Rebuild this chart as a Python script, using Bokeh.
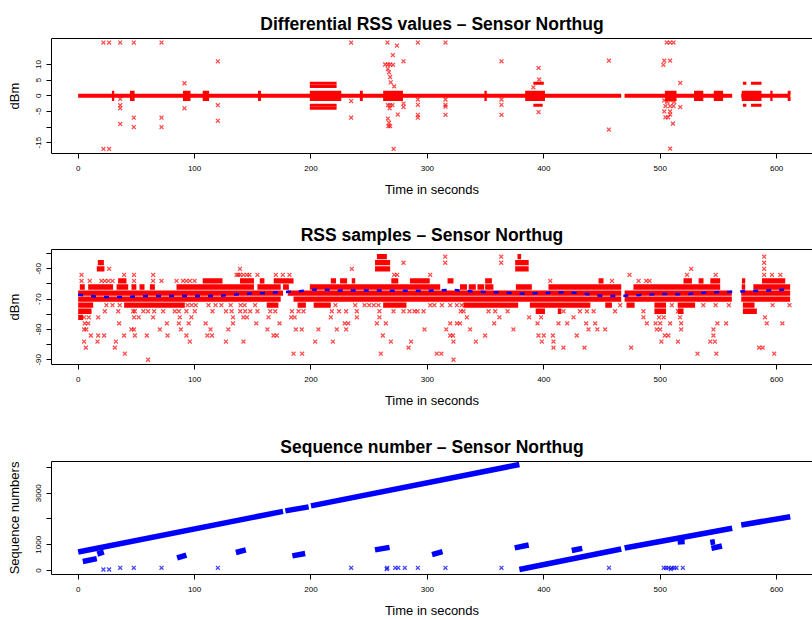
from bokeh.plotting import figure
from bokeh.layouts import column
from bokeh.models import Range1d, FixedTicker, LinearAxis
from bokeh.embed import file_html
from bokeh.resources import INLINE

FONT = "Liberation Sans"
TIME_TICKS = [0, 100, 200, 300, 400, 500, 600]

# ---------------- Panel 1: differential RSS ----------------
diff_band_t0 = [0, 469.4, 569.6]
diff_band_t1 = [466.5, 561.8, 611.7]
diff_band_v = [0, 0, 0]
# time spans where +1 / -1 differences are dense
diff_pm_t0 = [29, 44.5, 90, 107, 154.5, 199, 242, 262, 349, 384, 504, 529, 546, 570, 594.5, 609.5]
diff_pm_t1 = [31, 48.5, 96.5, 112.5, 157, 226, 244.5, 279, 351, 401, 514, 537, 554, 587, 596.5, 612]
diff_pm_levels = [1, -1]
# other dense rows
diff_row_t0 = [199, 199, 199, 199, 391, 391, 571, 578, 571, 578]
diff_row_t1 = [222, 222, 222, 222, 400, 399, 574, 587, 574, 587]
diff_row_v = [4, 3, -3, -4, 4, -3, 4, 4, -3, -3]
diff_pts_t = [21.7, 26.6, 36.1, 47.8, 71.6, 21.7, 26.6,
              36.1, 36.1, 36.1, 36.1, 47.8, 47.8, 71.6, 71.6,
              91.3, 91.3, 120, 120, 120,
              234.5, 234.5, 234.5,
              263.7, 265.7, 266, 266, 267, 268, 268, 268.5, 270.3, 270.5, 271.5, 273.8, 279.5,
              266, 268, 270, 267.5, 274.5, 266, 267, 266.5, 268, 271, 279.5, 279.5,
              291.8, 291.8, 291.8, 291.8, 291.8,
              315.5, 315.5, 315.5, 315.5, 315.5,
              363.6, 363.6, 363.6, 363.6,
              391, 395.5, 396, 395.5,
              455.9, 455.9,
              502.7, 503.5, 505.6, 508.5, 508.5, 511.4, 517.2,
              503.5, 506, 509, 512, 504.5, 508.5, 511.4, 503.5, 508.5, 508.5, 504.5, 506.8, 510.9, 508.5, 517.2]
diff_pts_v = [17, 17, 17, 17, 17, -17, -17,
              -1, -3, -4, -9, -7, -10, -7, -10,
              4, -4, 11, -3, -8,
              17, -1.7, -7,
              10, 17, 10, 8.6, 7.5, 10, 6, 4.3, 13, 9.9, 3, 16, 11,
              -3, -3, -3, -4, -6, -7.3, -8.6, -9.7, -9.7, -17, -2.5, -3.6,
              17, -1.2, -2.9, -6.1, -7,
              17, -1.2, -2.9, -3.5, -6.1,
              11, -1.2, -2.9, -6.1,
              2.7, 8.9, 5.2, -5.2,
              11.2, -10.8,
              9.9, 11.2, 17, 17, 11.2, 17, 4.1,
              -1.5, -2, -1.5, -2, -3.3, -3.3, -3.3, -5, -5, -6, -6.9, -6.9, -8.9, -16.9, -3.6]

# ---------------- Panel 2: RSS samples ----------------
rss_row_v = ([-56] * 2 + [-58] * 3 + [-60] * 3 + [-64] * 18 + [-66] * 19 + [-68] * 4 + [-70] * 4
             + [-72] * 13 + [-74] * 6 + [-76] * 1)
rss_row_t0 = [256.6, 377.4,
              17, 255, 375.4,
              16, 255, 375.4,
              34.3, 107, 139, 156, 168, 217, 225, 235, 269, 285, 317.3, 349.6, 447, 520, 533, 543, 570.2, 587.4,
              1.4, 8.6, 33, 45.8, 52.7, 61.6, 84.5, 154, 176, 199, 328, 335.5, 343, 349.6, 376, 404, 477, 570, 580,
              0, 180, 469.4, 569.6,
              0, 185, 469.4, 569.6,
              0, 39.5, 162, 188.5, 202.3, 262, 331, 388, 452.8, 471, 495, 515, 571,
              0, 393, 412, 495, 515, 571,
              0]
rss_row_t1 = [265.2, 380.5,
              22, 268, 387,
              22.6, 268, 387,
              41.5, 124, 151, 160, 185, 221.5, 231, 238, 275, 302, 322.4, 355.4, 451.3, 527.2, 537.2, 551.5, 573, 607.4,
              5.7, 30, 43, 50, 57, 65.9, 151, 174, 181, 311, 334, 341.6, 348.8, 356.7, 389.7, 466.5, 551.5, 573, 611.6,
              176, 466.5, 561.5, 611.6,
              174, 466.5, 561.5, 611.6,
              12.9, 91.6, 172, 195.6, 217, 282, 378, 440, 458.5, 478, 505, 530, 581,
              11.5, 401, 415, 505, 520, 583,
              4.3]
rss_pts_t = [18.5, 20.5, 26.6, 139,
             2.9, 39.5, 48, 64.4, 137.5, 136, 142, 145,
             2.9, 10, 20, 23, 26, 29.5, 48, 64.4, 71.6, 84.5, 90, 93, 96, 100,
             24.3, 29.5, 35.8, 94, 97.5, 101, 112, 118, 123, 131,
             22.9, 34.4, 47.3, 48.7, 56, 60, 65.3, 73, 83, 86.5, 93, 100.2, 115.4, 127, 131.8,
             5.1, 9.1, 17.2, 48, 52, 64.4, 87.3, 97.3, 133,
             5.7, 8.6, 35.2, 76.2, 86.5, 95, 109.5, 133,
             5.1, 7, 45.8, 48, 70.2, 88.2, 113.7, 129,
             10.9, 17.2, 22.3, 39.5, 48.7, 59, 76.8, 93, 111, 115,
             5.1, 16.6, 32.4, 95.9, 126.9,
             6.6, 31.5, 40.1, 60.1,
             279.5, 235.1,
             139.2, 147.2, 154, 169.8, 175.8, 181.5, 271.5, 274,
             139.5, 143, 152, 221, 238, 246, 250, 254, 258,
             139.2, 143.5, 147.8, 154, 165, 169.3, 183.6, 189.3, 193.6, 217.9, 224.1, 230.2, 239.4, 258.8, 270.9,
             279.5, 284.6, 289, 291.5, 296.7,
             142, 145, 163.5, 183, 186, 217, 239.4, 258.8,
             153, 173, 229, 232, 256.6, 264.3,
             162.6, 187, 192.1, 206.4, 222.2, 230.2, 297.5,
             167.8, 170.6, 261.7,
             142, 203.6, 218.8, 268.6, 286,
             283.8, 185, 192.4, 260,
             315.3, 363.4, 315.3, 363.4, 302.4, 352.5, 405.5, 458.5,
             302.4, 306, 312.5, 319.6, 325.3, 329.5, 455,
             328.7, 331, 352.5, 358.2, 368.9, 416.9, 431, 437, 442.8, 461.2,
             333.9, 361.9, 387.4, 397.7, 425.5,
             319.6, 325.3, 328, 357.4, 394.6, 412.6, 420.1, 436.4, 444.1,
             316.2, 336.7, 373.9, 438.4, 446, 452.7,
             319.6, 322, 349.6, 395.4, 400, 407.8, 428.3,
             322.4, 341.6, 398.3, 408.3,
             408.3, 416.9, 434.9, 308, 312, 322.4,
             589.3, 589.3, 526.6, 589.3,
             473.6, 523, 547.6, 589.3, 596, 603.2,
             481.4, 488, 490.8,
             465.6, 510, 537, 547.6, 559, 596.5, 611,
             485.6, 515.2, 518,
             485.6, 499, 503, 517, 590,
             488.5, 496, 500, 508.5, 518, 549.1, 556.6, 591.5, 604.9,
             497, 500, 518, 545.7,
             504, 507, 545.7,
             501, 515.2, 543, 547,
             475, 585, 588,
             532, 548.2, 597.9]
rss_pts_v = [-58, -58, -60, -60,
             -62, -62, -62, -62, -62, -62, -62, -62,
             -64, -64, -64, -64, -64, -64, -64, -64, -64, -64, -64, -64, -64, -64,
             -72, -72, -72, -72, -72, -72, -72, -72, -72, -72,
             -74, -74, -74, -74, -74, -74, -74, -74, -74, -74, -74, -74, -74, -74, -74,
             -76, -76, -76, -76, -76, -76, -76, -76, -76,
             -78, -78, -78, -78, -78, -78, -78, -78,
             -80, -80, -80, -80, -80, -80, -80, -80,
             -82, -82, -82, -82, -82, -82, -82, -82, -82, -82,
             -84, -84, -84, -84, -84,
             -86, -86, -88, -90,
             -58, -60,
             -62, -62, -62, -62, -62, -62, -62, -62,
             -72, -72, -72, -72, -72, -72, -72, -72, -72,
             -74, -74, -74, -74, -74, -74, -74, -74, -74, -74, -74, -74, -74, -74, -74,
             -74, -74, -74, -74, -74,
             -76, -76, -76, -76, -76, -76, -76, -76,
             -78, -78, -78, -78, -78, -78,
             -80, -80, -80, -80, -80, -80, -80,
             -82, -82, -82,
             -84, -84, -84, -84, -84,
             -86, -88, -88, -88,
             -56, -56, -58, -58, -62, -64, -64, -64,
             -72, -72, -72, -72, -72, -72, -72,
             -74, -74, -74, -74, -74, -74, -74, -74, -74, -74,
             -76, -76, -76, -76, -76,
             -78, -78, -78, -78, -78, -78, -78, -78, -78,
             -80, -80, -80, -80, -80, -80,
             -82, -82, -82, -82, -82, -82, -82,
             -84, -84, -84, -84,
             -86, -86, -86, -88, -88, -90,
             -56, -58, -60, -60,
             -62, -62, -62, -62, -62, -62,
             -64, -64, -64,
             -72, -72, -72, -72, -72, -72, -72,
             -74, -74, -74,
             -76, -76, -76, -76, -76,
             -78, -78, -78, -78, -78, -78, -78, -78, -78,
             -80, -80, -80, -80,
             -82, -82, -82,
             -84, -84, -84, -84,
             -86, -86, -86,
             -88, -88, -88]
rss_mean_t = [0, 10, 20, 40, 60, 80, 100, 120, 135, 145, 160, 180, 190, 200, 212, 225, 260, 300, 320, 340,
              365, 380, 400, 420, 435, 445, 455, 466, 470, 485, 500, 520, 540, 560, 580, 600, 611]
rss_mean_v = [-68.6, -68.9, -69.3, -69.3, -69.0, -69.0, -69.0, -69.0, -68.5, -68.2, -68.0, -67.6, -67.4, -66.9,
              -66.9, -67.2, -67.2, -67.3, -66.9, -67.5, -67.8, -68.2, -68.0, -67.7, -68.2, -68.8, -69.0, -68.9,
              -68.9, -68.6, -68.3, -68.4, -67.8, -67.6, -67.3, -67.0, -66.9]

# ---------------- Panel 3: sequence numbers ----------------
seq_line_t0 = [0, 178, 200, 379, 469.4, 569.6]
seq_line_s0 = [719, 2314, 2511, 38, 873, 1769]
seq_line_t1 = [176, 198, 379, 466.5, 561.8, 611.7]
seq_line_s1 = [2296, 2470, 4115, 835, 1642, 2088]
seq_blob_t0 = [4, 16.5, 85, 135.5, 184, 255, 304, 375, 424, 515, 544, 543]
seq_blob_s0 = [350, 640, 490, 700, 570, 800, 620, 880, 780, 1110, 860, 1090]
seq_blob_t1 = [16, 22, 93, 144, 195, 267.5, 313, 387, 433, 521, 553, 547]
seq_blob_s1 = [460, 720, 600, 800, 660, 900, 730, 990, 860, 1130, 950, 1120]
seq_pts_t = [21.7, 26.6, 36.1, 47.8, 71.6, 120, 234.5, 265, 265.5, 272.4, 275, 280.6, 291.8, 315.5,
             363.6, 456, 503, 505, 507, 509, 510, 512, 514, 519.4]
seq_pts_s = [40, 40, 105, 105, 105, 105, 105, 60, 105, 105, 105, 105, 105, 105,
             105, 105, 105, 105, 105, 60, 105, 105, 105, 105]


def make_panel(height, top, bottom, title, ylabel, yrange, yticks, ylabels):
    p = figure(width=812, height=height, x_range=Range1d(-22.9, 630.8), y_range=Range1d(*yrange),
               output_backend="svg", toolbar_location=None,
               min_border_left=51, min_border_right=0, min_border_top=top, min_border_bottom=bottom,
               outline_line_color=None, background_fill_color="white", border_fill_color="white")
    p.title.text = title
    p.title.text_font = FONT
    p.title.text_font_size = "17.5px"
    p.title.text_font_style = "bold"
    p.title.align = "center"
    p.title.text_color = "black"
    p.title.text_line_height = 0.8
    p.grid.visible = False

    xa = p.xaxis[0]
    xa.ticker = FixedTicker(ticks=TIME_TICKS)
    xa.axis_label = "Time in seconds"
    ya = p.yaxis[0]
    ya.ticker = FixedTicker(ticks=yticks)
    ya.axis_label = ylabel
    ya.major_label_orientation = "vertical"
    ya.major_label_overrides = {t: l for t, l in zip(yticks, ylabels)}
    xa.major_label_overrides = {t: str(t) for t in TIME_TICKS}
    for ax in (xa, ya):
        ax.axis_line_color = "black"
        ax.axis_line_width = 1
        ax.major_tick_out = 5
        ax.major_tick_in = 0
        ax.major_tick_line_color = "black"
        ax.minor_tick_line_color = None
        ax.major_label_text_font = FONT
        ax.major_label_text_font_size = "8px"
        ax.major_label_text_color = "black"
        ax.axis_label_text_font = FONT
        ax.axis_label_text_font_size = "13px"
        ax.axis_label_text_font_style = "normal"
        ax.axis_label_text_color = "black"
    xa.major_label_standoff = 7
    xa.axis_label_standoff = 8
    ya.major_label_standoff = 5
    ya.axis_label_standoff = 12
    top_ax = LinearAxis(ticker=FixedTicker(ticks=[]), axis_line_color="black",
                        major_tick_line_color=None, minor_tick_line_color=None,
                        major_label_text_font_size="0px", major_label_standoff=0,
                        major_tick_out=0, major_tick_in=0)
    p.add_layout(top_ax, "above")
    return p


MK = dict(marker="x", size=5.5, line_width=1.3)

# Panel 1
p1 = make_panel(211, 38, 58, "Differential RSS values \u2013 Sensor Northug", "dBm",
                (-18.45, 18.3), [-15, -10, -5, 0, 5, 10], ["-15", "", "-5", "0", "5", "10"])
p1.segment(x0=diff_band_t0, y0=diff_band_v, x1=diff_band_t1, y1=diff_band_v, line_color="red", line_width=4)
for lv in diff_pm_levels:
    p1.segment(x0=diff_pm_t0, y0=[lv] * len(diff_pm_t0), x1=diff_pm_t1, y1=[lv] * len(diff_pm_t1),
               line_color="red", line_width=4)
p1.segment(x0=diff_row_t0, y0=diff_row_v, x1=diff_row_t1, y1=diff_row_v, line_color="red", line_width=3)
p1.scatter(diff_pts_t, diff_pts_v, line_color="red", line_alpha=0.7, **MK)

# Panel 2
p2 = make_panel(211, 38, 58, "RSS samples \u2013 Sensor Northug", "dBm",
                (-91.56, -53.64), [-90, -85, -80, -75, -70, -65, -60, -55],
                ["-90", "", "-80", "", "-70", "", "-60", ""])
p2.segment(x0=rss_row_t0, y0=rss_row_v, x1=rss_row_t1, y1=rss_row_v, line_color="red", line_width=5.3)
p2.scatter(rss_pts_t, rss_pts_v, line_color="red", line_alpha=0.7, **MK)
p2.line(rss_mean_t, rss_mean_v, line_color="blue", line_width=2.5, line_dash="5 8")

# Panel 3
p3 = make_panel(198, 39, 45, "Sequence number \u2013 Sensor Northug", "Sequence numbers",
                (-154, 4231), [0, 1000, 2000, 3000, 4000], ["0", "1000", "", "3000", ""])
p3.segment(x0=seq_line_t0, y0=seq_line_s0, x1=seq_line_t1, y1=seq_line_s1, line_color="blue", line_width=5.5)
p3.segment(x0=seq_blob_t0, y0=seq_blob_s0, x1=seq_blob_t1, y1=seq_blob_s1, line_color="blue", line_width=5.5)
p3.scatter(seq_pts_t, seq_pts_s, line_color="blue", line_alpha=0.75, **MK)

layout = column(p1, p2, p3, spacing=0)
open("out.html", "w").write(file_html(layout, INLINE))
